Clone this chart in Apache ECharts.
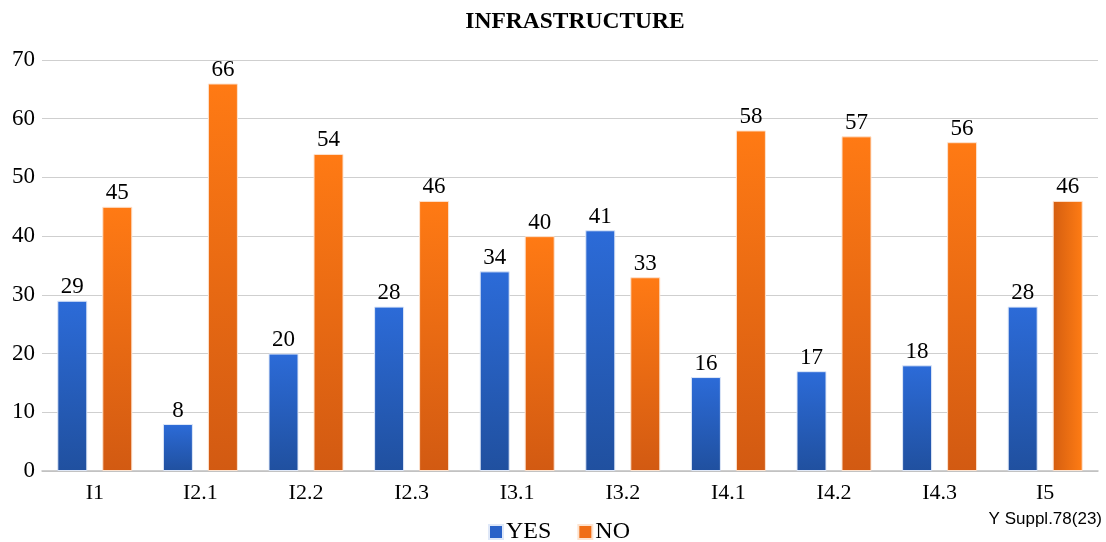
<!DOCTYPE html>
<html>
<head>
<meta charset="utf-8">
<script src="https://cdn.jsdelivr.net/npm/echarts@6/dist/echarts.min.js"></script>
<style>
  html, body { margin: 0; padding: 0; background: #fff; }
  #chart { width: 1106px; height: 542px; }
</style>
</head>
<body>
<div id="chart"></div>
<script>
const categories = ['I1', 'I2.1', 'I2.2', 'I2.3', 'I3.1', 'I3.2', 'I4.1', 'I4.2', 'I4.3', 'I5']
const yesValues = [29, 8, 20, 28, 34, 41, 16, 17, 18, 28]
const noValues = [45, 66, 54, 46, 40, 33, 58, 57, 56, 46]
const yTicks = [0, 10, 20, 30, 40, 50, 60, 70]

const serif = '"Liberation Serif", "DejaVu Serif", serif'

const blueGrad = new echarts.graphic.LinearGradient(0, 0, 0, 1, [
  { offset: 0, color: '#2c6bd8' },
  { offset: 1, color: '#20509f' }
])
const orangeGrad = new echarts.graphic.LinearGradient(0, 0, 0, 1, [
  { offset: 0, color: '#ff7a14' },
  { offset: 1, color: '#d25a12' }
])
// last orange bar is shaded left-to-right
const orangeSide = new echarts.graphic.LinearGradient(0, 0, 1, 0, [
  { offset: 0, color: '#d45e10' },
  { offset: 1, color: '#ff7c14' }
])

const chart = echarts.init(document.getElementById('chart'))
chart.setOption({
  animation: false,
  title: {
    text: 'INFRASTRUCTURE',
    left: 570,
    textAlign: 'center',
    top: 5,
    textStyle: { fontFamily: serif, fontWeight: 'bold', fontSize: 23.5, color: '#000' }
  },
  legend: {
    top: 515,
    left: 483,
    itemWidth: 14,
    itemHeight: 14,
    itemGap: 26,
    icon: 'rect',
    textStyle: { fontFamily: serif, fontSize: 24, color: '#000', padding: [0, 0, 0, -2] },
    data: [
      { name: 'YES', itemStyle: { color: '#2a62c8' } },
      { name: 'NO', itemStyle: { color: '#f06e16' } }
    ]
  },
  graphic: [{
    type: 'text',
    right: 4,
    top: 511,
    style: { text: 'Y Suppl.78(23)', font: '17px "Liberation Sans", Arial, sans-serif', fill: '#000' }
  }],
  grid: { left: 42, right: 8, top: 60, bottom: 71, containLabel: false },
  xAxis: {
    type: 'category',
    data: categories,
    axisTick: { show: false },
    axisLine: { lineStyle: { color: '#bfbfbf', width: 1.5 } },
    axisLabel: { fontFamily: serif, fontSize: 22, color: '#000', margin: 11 }
  },
  yAxis: {
    type: 'value',
    min: yTicks[0],
    max: yTicks[yTicks.length - 1],
    interval: 10,
    axisLine: { show: false },
    axisTick: { show: false },
    splitLine: { lineStyle: { color: '#cfcfcf', width: 1.2 } },
    axisLabel: { fontFamily: serif, fontSize: 23, color: '#000', margin: 7 }
  },
  series: [
    {
      name: 'YES',
      type: 'bar',
      barWidth: 30,
      barGap: '50%',
      data: yesValues,
      itemStyle: { color: blueGrad, borderColor: '#dfe8f8', borderWidth: 1 },
      label: { show: true, position: 'top', distance: 2, fontFamily: serif, fontSize: 23, color: '#000' }
    },
    {
      name: 'NO',
      type: 'bar',
      barWidth: 30,
      data: noValues.map((v, i) => i === noValues.length - 1
        ? { value: v, itemStyle: { color: orangeSide } }
        : v),
      itemStyle: { color: orangeGrad, borderColor: '#fde3cf', borderWidth: 1 },
      label: { show: true, position: 'top', distance: 2, fontFamily: serif, fontSize: 23, color: '#000' }
    }
  ]
})
</script>
</body>
</html>
